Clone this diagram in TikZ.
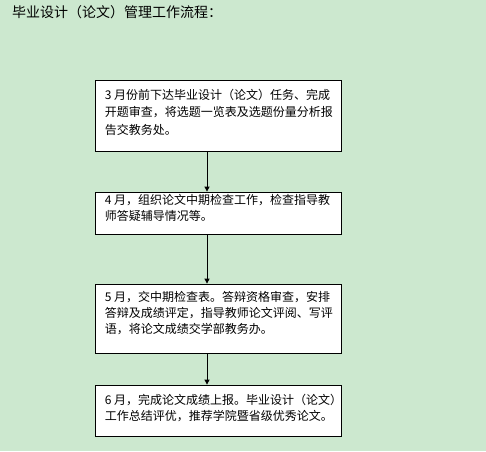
\documentclass[tikz,border=0pt]{standalone}
\usepackage{fontspec}
\setmainfont{Noto Sans CJK SC}
\usetikzlibrary{arrows.meta,positioning}
\definecolor{paper}{RGB}{204,232,207}

\begin{document}
\begin{tikzpicture}[
  x=1pt,y=-1pt,
  stage/.style={rectangle,draw,line width=0.8pt,fill=white,minimum width=246pt},
  note/.style={anchor=north west,inner sep=0pt,align=left,font=\fontsize{12}{16}\selectfont},
  arr/.style={-{Triangle[length=5pt,width=5pt]},line width=0.8pt},
]

\fill[paper] (0,0) rectangle (486,451);
\useasboundingbox (0,0) rectangle (486,451);

\node[anchor=west,inner sep=0pt,font=\fontsize{14}{16}\selectfont] (title) at (12,12) {毕业设计（论文）管理工作流程：};

\node[stage,minimum height=71pt] (s1) at (218,115.5) {};
\node[stage,minimum height=42pt] (s2) at (218,213) {};
\node[stage,minimum height=69pt] (s3) at (218,318.5) {};
\node[stage,minimum height=51pt] (s4) at (218,410.5) {};

\node[note,font=\fontsize{12}{17.5}\selectfont] (t1) at ([xshift=10pt,yshift=-9pt]s1.north west)
  {3 月份前下达毕业设计（论文）任务、完成\\开题审查，将选题一览表及选题份量分析报\\告交教务处。};
\node[note] (t2) at ([xshift=10pt,yshift=-3pt]s2.north west)
  {4 月，组织论文中期检查工作，检查指导教\\师答疑辅导情况等。};
\node[note] (t3) at ([xshift=10pt,yshift=-7pt]s3.north west)
  {5 月，交中期检查表。答辩资格审查，安排\\答辩及成绩评定，指导教师论文评阅、写评\\语，将论文成绩交学部教务办。};
\node[note] (t4) at ([xshift=10pt,yshift=-9pt]s4.north west)
  {6 月，完成论文成绩上报。毕业设计（论文）\\工作总结评优，推荐学院暨省级优秀论文。};

\draw[arr] ([xshift=-11pt]s1.south) -- ([xshift=-11pt]s2.north);
\draw[arr] ([xshift=-11pt]s2.south) -- ([xshift=-11pt]s3.north);
\draw[arr] ([xshift=-11pt]s3.south) -- ([xshift=-11pt]s4.north);

\end{tikzpicture}
\end{document}
